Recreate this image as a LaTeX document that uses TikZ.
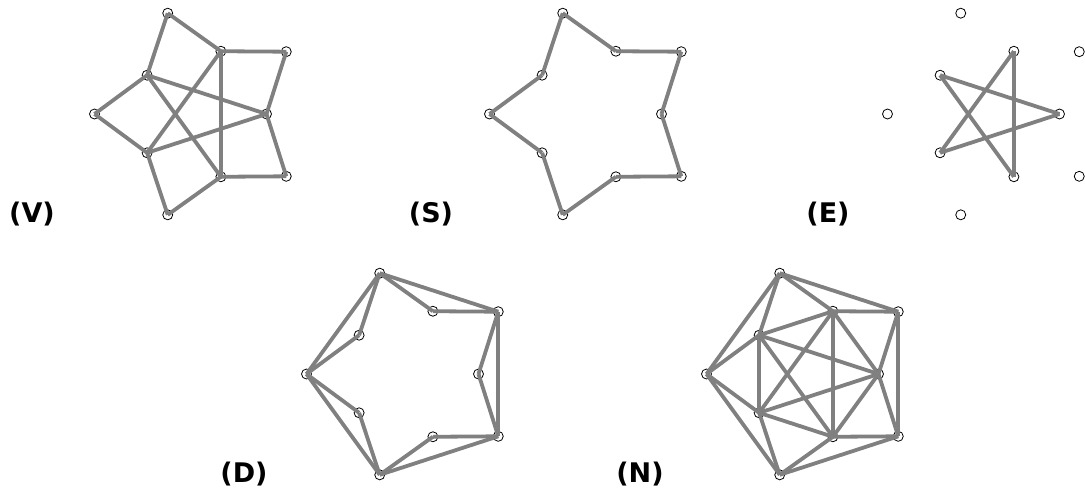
\documentclass[tikz,border=0pt]{standalone}
\usepackage{fontspec}
\setsansfont{DejaVu Sans}
\definecolor{edgegray}{RGB}{128,128,128}
\tikzset{
  vtx/.style={circle,draw=black,fill=white,line width=0.8pt,minimum size=10pt,inner sep=0pt},
  edge/.style={draw=edgegray,line width=3.8pt},
  lbl/.style={font=\sffamily\bfseries\fontsize{27}{32}\selectfont,inner sep=0pt}
}
\newcommand{\mkverts}[3]{% name, cx, cy
  \begin{scope}[shift={(#2,-#3)}]
    \foreach \k in {0,...,4}{
      \node[vtx] (#1-o\k) at (36+72*\k:106) {};
      \node[vtx] (#1-i\k) at (72*\k:66) {};
    }
  \end{scope}}
\newcommand{\staroutline}[1]{%
  \foreach \k in {0,...,4}{
    \pgfmathtruncatemacro\ka{mod(\k+1,5)}
    \draw[edge] (#1-o\k.center) -- (#1-i\k.center);
    \draw[edge] (#1-o\k.center) -- (#1-i\ka.center);
  }}
\newcommand{\innerstar}[1]{%
  \foreach \k in {0,...,4}{
    \pgfmathtruncatemacro\kb{mod(\k+2,5)}
    \draw[edge] (#1-i\k.center) -- (#1-i\kb.center);
  }}
\newcommand{\innerpent}[1]{%
  \foreach \k in {0,...,4}{
    \pgfmathtruncatemacro\ka{mod(\k+1,5)}
    \draw[edge] (#1-i\k.center) -- (#1-i\ka.center);
  }}
\newcommand{\outerpent}[1]{%
  \foreach \k in {0,...,4}{
    \pgfmathtruncatemacro\ka{mod(\k+1,5)}
    \draw[edge] (#1-o\k.center) -- (#1-o\ka.center);
  }}
\begin{document}
\begin{tikzpicture}[x=1pt,y=1pt]
\useasboundingbox (0,0) rectangle (1085,-493);
% graph V
\mkverts{V}{200.5}{114}
\staroutline{V}
\innerstar{V}
% graph S
\mkverts{S}{595.5}{114}
\staroutline{S}
% graph E
\mkverts{E}{993.5}{114}
\innerstar{E}
% graph D
\mkverts{D}{412.5}{374}
\staroutline{D}
\outerpent{D}
% graph N
\mkverts{N}{812.5}{374}
\staroutline{N}
\outerpent{N}
\innerpent{N}
\innerstar{N}
% labels
\node[lbl] (lV) at (32,-214) {(V)};
\node[lbl] (lS) at (431,-214) {(S)};
\node[lbl] (lE) at (828,-214) {(E)};
\node[lbl] (lD) at (244,-474) {(D)};
\node[lbl] (lN) at (640,-474) {(N)};
\end{tikzpicture}
\end{document}
